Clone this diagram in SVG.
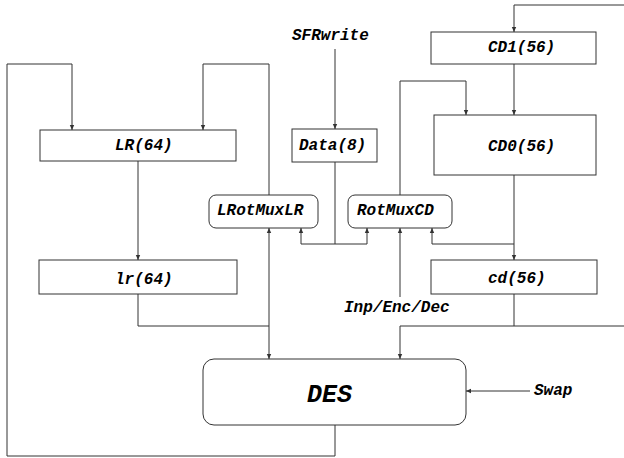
<svg xmlns="http://www.w3.org/2000/svg" width="624" height="458" viewBox="0 0 624 458">
<style>
.box{fill:#fff;stroke:#333;stroke-width:1}
.ln{fill:none;stroke:#333;stroke-width:1}
.t{font-family:"Liberation Mono","Courier New",monospace;font-weight:bold;font-style:italic;font-size:16px;fill:#000}
.big{font-size:25px}
</style>
<defs>
<marker id="ah" markerUnits="userSpaceOnUse" markerWidth="6" markerHeight="6" refX="5" refY="3" orient="auto-start-reverse" viewBox="0 0 6 6">
<path d="M0,0.8 L5,3 L0,5.2 Z" fill="#333"/>
</marker>
</defs>
<rect width="624" height="458" fill="#fff"/>
<g id="connectors">
<path class="ln" d="M335,425 V456 H7 V64 H72 V130" marker-end="url(#ah)"/>
<path class="ln" d="M269,195 V64 H203 V130" marker-end="url(#ah)"/>
<path class="ln" d="M138,161 V260" marker-end="url(#ah)"/>
<path class="ln" d="M138,294 V326 H269"/>
<path class="ln" d="M269,228 V359" marker-start="url(#ah)" marker-end="url(#ah)"/>
<path class="ln" d="M335,49 V129" marker-end="url(#ah)"/>
<path class="ln" d="M335,162 V244"/>
<path class="ln" d="M301,228 V244 H367 V228" marker-start="url(#ah)" marker-end="url(#ah)"/>
<path class="ln" d="M400,297 V228" marker-end="url(#ah)"/>
<path class="ln" d="M400,195 V81 H466 V115" marker-end="url(#ah)"/>
<path class="ln" d="M514,64 V115" marker-end="url(#ah)"/>
<path class="ln" d="M514,175 V260" marker-end="url(#ah)"/>
<path class="ln" d="M514,244 H432 V228" marker-end="url(#ah)"/>
<path class="ln" d="M514,294 V326 H400 V359" marker-end="url(#ah)"/>
<path class="ln" d="M514,326 H630 V5 H514 V32" marker-end="url(#ah)"/>
<path class="ln" d="M530,391 H466" marker-end="url(#ah)"/>
</g>
<g id="LR"><rect class="box" x="40" y="130" width="196" height="31"/><text class="t" x="115" y="150">LR(64)</text></g>
<g id="lr"><rect class="box" x="39" y="260" width="198" height="34"/><text class="t" x="115" y="284">lr(64)</text></g>
<g id="LRotMuxLR"><rect class="box" x="209" y="195" width="109" height="33" rx="7"/><text class="t" x="217" y="215">LRotMuxLR</text></g>
<g id="Data"><rect class="box" x="292" y="129" width="85" height="33"/><text class="t" x="299" y="150">Data(8)</text></g>
<g id="RotMuxCD"><rect class="box" x="348" y="195" width="104" height="33" rx="7"/><text class="t" x="357" y="215">RotMuxCD</text></g>
<g id="CD1"><rect class="box" x="431" y="32" width="165" height="32"/><text class="t" x="488" y="52">CD1(56)</text></g>
<g id="CD0"><rect class="box" x="434" y="115" width="162" height="60"/><text class="t" x="488" y="151">CD0(56)</text></g>
<g id="cd"><rect class="box" x="431" y="260" width="166" height="34"/><text class="t" x="488" y="283">cd(56)</text></g>
<g id="DES"><rect class="box" x="203" y="359" width="263" height="66" rx="11"/><text class="t big" x="307" y="402">DES</text></g>
<g id="SFRwrite"><text class="t" x="292" y="40">SFRwrite</text></g>
<g id="InpEncDec"><text class="t" x="344" y="312">Inp/Enc/Dec</text></g>
<g id="Swap"><text class="t" x="534" y="395">Swap</text></g>
</svg>
